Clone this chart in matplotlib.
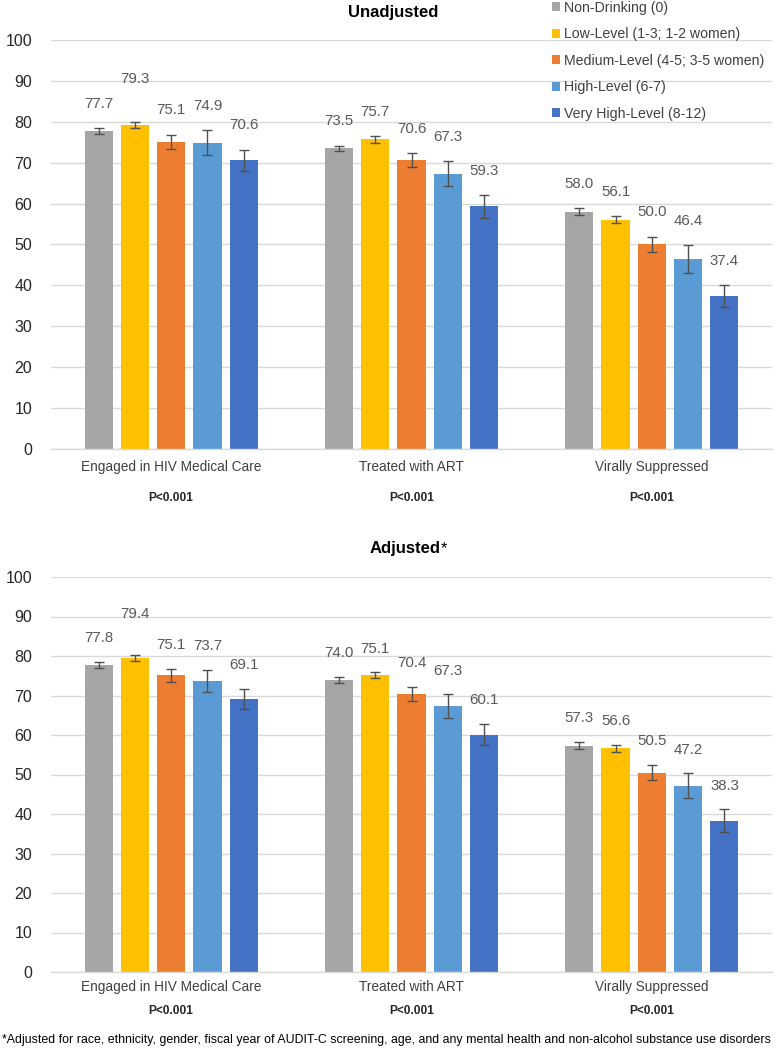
import matplotlib
matplotlib.use("Agg")
import matplotlib.pyplot as plt
import numpy as np
from matplotlib.patches import Patch

plt.rcParams["font.family"] = ["Liberation Sans", "DejaVu Sans"]

CATEGORIES = ["Engaged in HIV Medical Care", "Treated with ART", "Virally Suppressed"]
SERIES = [
    "Non-Drinking (0)",
    "Low-Level (1-3; 1-2 women)",
    "Medium-Level (4-5; 3-5 women)",
    "High-Level (6-7)",
    "Very High-Level (8-12)",
]
COLORS = ["#A5A5A5", "#FFC000", "#ED7D31", "#5B9BD5", "#4472C4"]

# rows = drinking level, columns = outcome
UNADJ = [
    [77.7, 73.5, 58.0],
    [79.3, 75.7, 56.1],
    [75.1, 70.6, 50.0],
    [74.9, 67.3, 46.4],
    [70.6, 59.3, 37.4],
]
UNADJ_ERR = [
    [0.7, 0.7, 0.9],
    [0.7, 0.8, 0.85],
    [1.7, 1.7, 1.85],
    [3.0, 3.0, 3.4],
    [2.6, 2.7, 2.65],
]
ADJ = [
    [77.8, 74.0, 57.3],
    [79.4, 75.1, 56.6],
    [75.1, 70.4, 50.5],
    [73.7, 67.3, 47.2],
    [69.1, 60.1, 38.3],
]
ADJ_ERR = [
    [0.8, 0.75, 0.9],
    [0.75, 0.75, 0.85],
    [1.6, 1.8, 1.9],
    [2.8, 3.0, 3.1],
    [2.5, 2.7, 2.85],
]
P_LABELS = ["P<0.001", "P<0.001", "P<0.001"]
FOOTNOTE = ("*Adjusted for race, ethnicity, gender, fiscal year of AUDIT-C screening, age, "
            "and any mental health and non-alcohol substance use disorders")

W, H = 781, 1050
fig = plt.figure(figsize=(W / 100, H / 100), dpi=100)

TEXT_GRAY = "#595959"
GRID = "#D9D9D9"


def px_axes(top, bottom, left=51, right=772):
    return fig.add_axes([left / W, 1 - bottom / H, (right - left) / W, (bottom - top) / H])


def draw_panel(ax, values, errs, cat_gap, p_gap):
    n = len(SERIES)
    pitch = 0.151
    width = 0.117
    x = np.arange(len(CATEGORIES))
    for i in range(n):
        xs = x + (i - (n - 1) / 2) * pitch
        ax.bar(xs, values[i], width, color=COLORS[i], zorder=2, label=SERIES[i])
        ax.errorbar(xs, values[i], yerr=errs[i], fmt="none", ecolor="#505050",
                    elinewidth=1.0, capsize=3.5, capthick=1.0, zorder=3)
        for j, (xv, v, e) in enumerate(zip(xs, values[i], errs[i])):
            lift = 6.0
            if i == 1 and j == 0:
                lift += 4.5
            ax.text(xv, v + e + lift, f"{v:.1f}", ha="center", va="center",
                    fontsize=10.8, color=TEXT_GRAY, zorder=4)
    ax.set_xlim(-0.5, len(CATEGORIES) - 0.5)
    ax.set_ylim(0, 100)
    ax.set_yticks(range(0, 101, 10))
    ax.yaxis.grid(True, color=GRID, linewidth=1.0, zorder=0)
    ax.set_axisbelow(True)
    for s in ["top", "right", "left"]:
        ax.spines[s].set_visible(False)
    ax.spines["bottom"].set_color(GRID)
    ax.spines["bottom"].set_linewidth(1.0)
    ax.tick_params(axis="y", length=0, pad=13.5, labelsize=11.5, labelcolor="#262626")
    ax.set_xticks(x)
    ax.set_xticklabels(CATEGORIES)
    ax.tick_params(axis="x", length=0, pad=cat_gap, labelsize=9.8, labelcolor="#404040")
    for j, p in enumerate(P_LABELS):
        ax.annotate(p, xy=(x[j], 0), xycoords="data", xytext=(0, -p_gap),
                    textcoords="offset pixels", ha="center", va="center",
                    fontsize=8.6, fontweight="bold", color="#262626")


ax1 = px_axes(40, 449)
draw_panel(ax1, UNADJ, UNADJ_ERR, cat_gap=8, p_gap=49)
ax2 = px_axes(577, 972)
draw_panel(ax2, ADJ, ADJ_ERR, cat_gap=6, p_gap=39)

fig.text(393 / W, 1 - 12 / H, "Unadjusted", ha="center", va="center",
         fontsize=12, fontweight="bold", color="#000000")
fig.text(441 / W, 1 - 549 / H, "Adjusted", ha="right", va="center",
         fontsize=12, fontweight="bold", color="#000000")
fig.text(441 / W, 1 - 549 / H, "*", ha="left", va="center",
         fontsize=12, color="#000000")

handles = [Patch(facecolor=c, edgecolor="none") for c in COLORS]
fig.legend(handles, SERIES, loc="upper left", bbox_to_anchor=(551 / W, 1 - 0 / H),
           frameon=False, fontsize=10.2, handlelength=0.6, handleheight=0.6,
           handletextpad=0.3, labelspacing=0.88, borderpad=0.05, borderaxespad=0,
           labelcolor="#404040")

fig.text(2 / W, 1 - 1040 / H, FOOTNOTE, ha="left", va="center", fontsize=8.9,
         color="#000000")

fig.savefig("out.png", dpi=100)
